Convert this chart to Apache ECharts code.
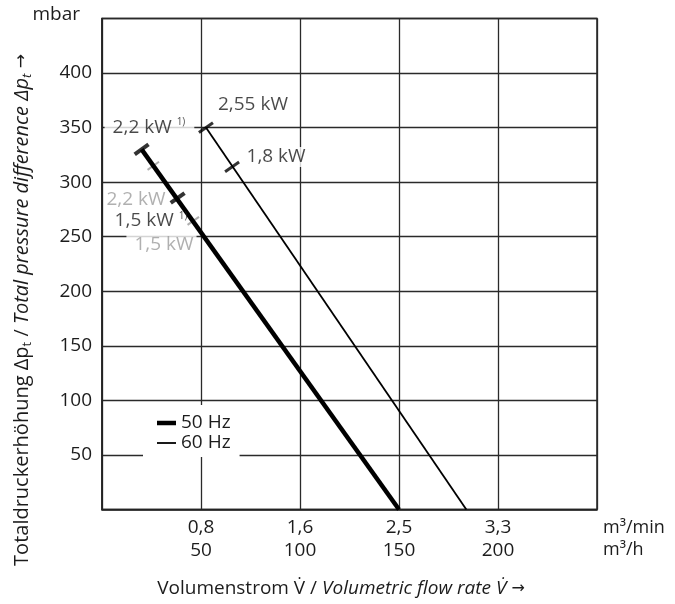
<!DOCTYPE html>
<html><head><meta charset="utf-8">
<script src="https://cdn.jsdelivr.net/npm/echarts@6/dist/echarts.min.js"></script>
<style>html,body{margin:0;padding:0;background:#fff}#c{width:675px;height:604px}</style>
</head><body><div id="c"></div>
<script>
// ---- data (m³/h, mbar) ----
const flowTicks = [50, 100, 150, 200];            // m³/h
const flowMinLabels = ['0,8', '1,6', '2,5', '3,3']; // m³/min
const pressureTicks = [50, 100, 150, 200, 250, 300, 350, 400];
const curve50 = [[20, 330], [150, 0]];
const curve60 = [[52.5, 350], [184, 0]];
const marks50 = [[20, 330], [38.2, 285.5]];
const marks60 = [[52.5, 350], [65.7, 314]];
const marksGray = [[25.9, 315], [46.1, 264.5]];
const powerLabels = ['2,2 kW ¹⁾', '2,55 kW', '1,8 kW', '2,2 kW', '1,5 kW ¹⁾', '1,5 kW'];
const legendNames = ['50 Hz', '60 Hz'];

const FONT = 'Open Sans';
const INK = '#1c1c1c';
const GRAY = '#9c9c9c';
const FS = 19;

// annotation placement (style): anchor point, label index, pixel offset, colour, background padding
const annotations = [
  { at: marks60[0], idx: 0, off: [-56.5, 0], color: INK, pad: [1, 9, 1, 8], bg: true },
  { at: marks60[0], idx: 1, off: [47, -22.6], color: INK, pad: 0, bg: false },
  { at: marks60[1], idx: 2, off: [44, -10], color: INK, pad: [0, 2, 0, 2], bg: true },
  { at: marks50[1], idx: 3, off: [-41.6, 2], color: GRAY, pad: 0, bg: false },
  { at: marksGray[1], idx: 4, off: [-42.3, 0], color: INK, pad: 0, bg: false },
  { at: marksGray[1], idx: 5, off: [-31.8, 24], color: GRAY, pad: [1, 3, 1, 8], bg: true }
];

function richLabel(t) {
  return t.replace(' ¹⁾', ' {s|1)}');
}

const chart = echarts.init(document.getElementById('c'), null, { renderer: 'canvas' });

const axisLineStyle = { color: '#222', width: 1.5 };
const splitLineStyle = { color: '#2a2a2a', width: 1.3 };
const legendText = { fontFamily: FONT, fontSize: FS, color: INK, lineHeight: 20 };

const option = {
  animation: false,
  backgroundColor: '#fff',
  textStyle: { fontFamily: FONT },
  grid: { left: 102, top: 18.5, right: 78, bottom: 94.5, show: true, borderColor: '#222', borderWidth: 1.5 },
  xAxis: {
    type: 'value', min: 0, max: 250, interval: 50,
    axisLine: { show: true, lineStyle: axisLineStyle },
    axisTick: { show: false },
    splitLine: { show: true, lineStyle: splitLineStyle },
    axisLabel: {
      fontFamily: FONT, fontSize: FS, color: INK, lineHeight: 22.5, margin: 7,
      formatter: function (v) {
        const i = flowTicks.indexOf(v);
        return i < 0 ? '' : flowMinLabels[i] + '\n' + v;
      }
    },
    name: 'm³/min\nm³/h',
    nameLocation: 'end',
    nameGap: 6,
    nameTextStyle: { fontFamily: FONT, fontSize: FS - 1, color: INK, align: 'left', verticalAlign: 'top', lineHeight: 22.5, padding: [7, 0, 0, 0] }
  },
  yAxis: {
    type: 'value', min: 0, max: 450, interval: 50,
    axisLine: { show: true, lineStyle: axisLineStyle },
    axisTick: { show: false },
    splitLine: { show: true, lineStyle: splitLineStyle },
    axisLabel: {
      fontFamily: FONT, fontSize: FS, color: INK, margin: 10,
      formatter: function (v) { return pressureTicks.indexOf(v) < 0 ? '' : String(v); }
    },
    name: 'mbar',
    nameLocation: 'end',
    nameGap: 3.5,
    nameTextStyle: { fontFamily: FONT, fontSize: FS, color: INK, align: 'right', verticalAlign: 'middle', padding: [0, 22, 0, 0] }
  },
  legend: [
    {
      data: [{ name: legendNames[0], icon: 'rect' }],
      left: 143, top: 405, itemWidth: 19, itemHeight: 4.5,
      padding: [8, 9, 2, 14], backgroundColor: '#fff', selectedMode: false,
      textStyle: legendText
    },
    {
      data: [{ name: legendNames[1], icon: 'rect' }],
      left: 143, top: 433, itemWidth: 19, itemHeight: 1.8,
      padding: [0, 9, 4, 14], backgroundColor: '#fff', selectedMode: false,
      textStyle: legendText
    }
  ],
  graphic: [
    {
      type: 'text', x: 22, y: 310, rotation: Math.PI / 2, z: 100,
      style: {
        text: '{n|Totaldruckerhöhung Δp}{sub|t}{n| / }{i|Total pressure difference Δp}{isub|t}{a| →}',
        align: 'center', verticalAlign: 'middle',
        rich: {
          n: { fontFamily: FONT, fontSize: 20, fill: INK, lineHeight: 24 },
          i: { fontFamily: FONT, fontSize: 20, fontStyle: 'italic', fill: INK, lineHeight: 24 },
          a: { fontFamily: 'DejaVu Sans', fontSize: 17, fill: INK, lineHeight: 24 },
          sub: { fontFamily: FONT, fontSize: 13, fill: INK, lineHeight: 14, verticalAlign: 'bottom' },
          isub: { fontFamily: FONT, fontSize: 13, fontStyle: 'italic', fill: INK, lineHeight: 14, verticalAlign: 'bottom' }
        }
      }
    },
    {
      type: 'text', x: 341, y: 589, z: 100,
      style: {
        text: '{n|Volumenstrom V\u0307 / }{i|Volumetric flow rate V\u0307}{a| →}',
        align: 'center', verticalAlign: 'middle',
        rich: {
          n: { fontFamily: FONT, fontSize: FS, fill: INK },
          i: { fontFamily: FONT, fontSize: FS, fontStyle: 'italic', fill: INK },
          a: { fontFamily: 'DejaVu Sans', fontSize: 16, fill: INK }
        }
      }
    }
  ],
  series: [
    {
      name: 'gray marks', type: 'scatter', data: marksGray,
      symbol: 'rect', symbolSize: [14, 2], symbolRotate: 35,
      itemStyle: { color: '#9a9a9a' }, silent: true, z: 3
    },
    {
      name: legendNames[0], type: 'line', data: curve50, symbol: 'none',
      lineStyle: { color: '#000', width: 4.5 }, itemStyle: { color: '#000' }, z: 4
    },
    {
      name: legendNames[1], type: 'line', data: curve60, symbol: 'none',
      lineStyle: { color: '#000', width: 1.8 }, itemStyle: { color: '#000' }, z: 4
    },
    {
      name: 'marks 50', type: 'scatter', data: marks50,
      symbol: 'rect', symbolSize: [17, 4], symbolRotate: 35.6,
      itemStyle: { color: '#000' }, silent: true, z: 5
    },
    {
      name: 'marks 60', type: 'scatter', data: marks60,
      symbol: 'rect', symbolSize: [17, 3], symbolRotate: 34.4,
      itemStyle: { color: '#000' }, silent: true, z: 5
    },
    {
      name: 'labels', type: 'scatter', symbolSize: 0, silent: true, z: 6,
      data: annotations.map(function (a) {
        return {
          value: a.at,
          label: {
            show: true, position: 'inside', offset: a.off,
            align: 'center', verticalAlign: 'middle',
            formatter: richLabel(powerLabels[a.idx]),
            fontFamily: FONT, fontSize: FS, color: a.color, lineHeight: 20,
            backgroundColor: a.bg ? '#fff' : 'transparent', padding: a.pad,
            rich: {
              s: { fontFamily: FONT, fontSize: 10, color: a.color, lineHeight: 10, verticalAlign: 'top' }
            }
          }
        };
      })
    }
  ]
};
chart.setOption(option);
</script>
</body></html>
